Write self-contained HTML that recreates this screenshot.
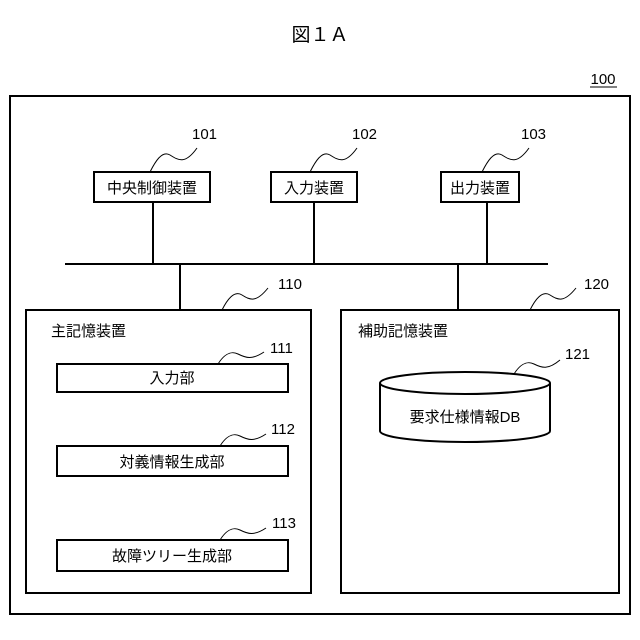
<!DOCTYPE html>
<html><head><meta charset="utf-8"><style>
html,body{margin:0;padding:0;background:#fff;}
svg{display:block;}
text{font-family:"Liberation Sans","Noto Sans CJK JP",sans-serif;fill:#000;}
</style></head><body>
<svg width="640" height="640" viewBox="0 0 640 640" xmlns="http://www.w3.org/2000/svg">
<text x="320" y="41" font-size="19" text-anchor="middle">図１Ａ</text>
<text x="603" y="84" font-size="15" text-anchor="middle">100</text>
<line x1="590" y1="87" x2="617" y2="87" stroke="#000" stroke-width="1"/>
<g fill="none" stroke="#000" stroke-width="2">
<rect x="10" y="96" width="620" height="518"/>
<rect x="94" y="172" width="116" height="30"/>
<rect x="271" y="172" width="86" height="30"/>
<rect x="441" y="172" width="78" height="30"/>
<line x1="65" y1="264" x2="548" y2="264"/>
<line x1="153" y1="202" x2="153" y2="264"/>
<line x1="314" y1="202" x2="314" y2="264"/>
<line x1="487" y1="202" x2="487" y2="264"/>
<line x1="180" y1="264" x2="180" y2="310"/>
<line x1="458" y1="264" x2="458" y2="310"/>
<rect x="26" y="310" width="285" height="283"/>
<rect x="341" y="310" width="278" height="283"/>
<rect x="57" y="364" width="231" height="28"/>
<rect x="57" y="446" width="231" height="30"/>
<rect x="57" y="540" width="231" height="31"/>
<path d="M380,383 L380,431 A85,11 0 0 0 550,431 L550,383"/>
<ellipse cx="465" cy="383" rx="85" ry="11"/>
</g>
<g fill="none" stroke="#000" stroke-width="1">
<path d="M150,172 C155,162 162,150 170,155 C178,160 185,165 197,148"/>
<path d="M310,172 C315,162 322,150 330,155 C338,160 345,165 357,148"/>
<path d="M482,172 C487,162 494,150 502,155 C510,160 517,165 529,148"/>
<path d="M222,310 C227,300 234,290 242,295 C250,300 256,303 268,288"/>
<path d="M530,310 C535,300 542,290 550,295 C558,300 564,303 576,288"/>
<path d="M218,364 C223,356 230,350 238,354 C246,358 252,360 264,352"/>
<path d="M220,446 C225,438 232,432 240,436 C248,440 254,442 266,434"/>
<path d="M220,540 C225,532 232,526 240,530 C248,534 254,536 266,528"/>
<path d="M514,374 C519,366 526,360 534,364 C542,368 548,370 560,360"/>
</g>
<g font-size="15">
<text x="192" y="139">101</text>
<text x="352" y="139">102</text>
<text x="521" y="139">103</text>
<text x="278" y="289">110</text>
<text x="584" y="289">120</text>
<text x="270" y="353">111</text>
<text x="271" y="434">112</text>
<text x="272" y="528">113</text>
<text x="565" y="359">121</text>
</g>
<g font-size="15" text-anchor="middle">
<text x="152" y="193">中央制御装置</text>
<text x="314" y="193">入力装置</text>
<text x="480" y="193">出力装置</text>
<text x="172" y="383">入力部</text>
<text x="172" y="467">対義情報生成部</text>
<text x="172" y="561">故障ツリー生成部</text>
<text x="465" y="422">要求仕様情報DB</text>
</g>
<g font-size="15">
<text x="51" y="336">主記憶装置</text>
<text x="358" y="336">補助記憶装置</text>
</g>
</svg>
</body></html>
